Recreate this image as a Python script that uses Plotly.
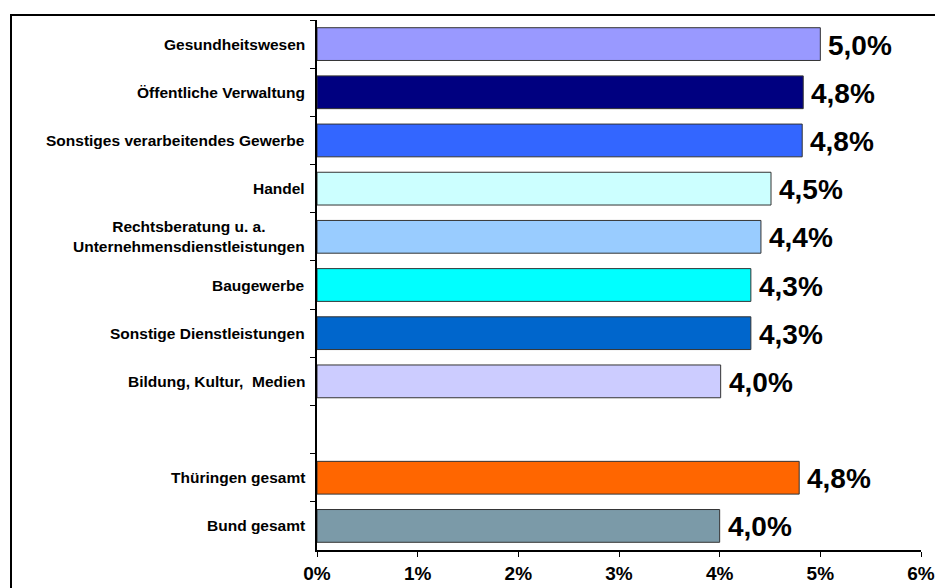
import plotly.graph_objects as go

# Kategorien von oben nach unten (leerer Platz als Trenner)
kategorien = [
    "Gesundheitswesen",
    "Öffentliche Verwaltung",
    "Sonstiges verarbeitendes Gewerbe",
    "Handel",
    "Rechtsberatung u. a.<br>Unternehmensdienstleistungen",
    "Baugewerbe",
    "Sonstige Dienstleistungen",
    "Bildung, Kultur,  Medien",
    " ",
    "Thüringen gesamt",
    "Bund gesamt",
]
werte = [5.0, 4.83, 4.82, 4.51, 4.41, 4.31, 4.31, 4.01, None, 4.79, 4.0]
farben = [
    "#9999FF", "#000080", "#3366FF", "#CCFFFF", "#99CCFF", "#00FFFF",
    "#0066CC", "#CCCCFF", "#FFFFFF", "#FF6600", "#7B9AA8",
]
x_ticks = [0, 1, 2, 3, 4, 5, 6]

# die Seite hat 8px Rand (body margin) -> Ränder entsprechend kleiner
L, T, PW, PH = 309, 12, 604, 535

fig = go.Figure()

fig.add_trace(go.Bar(
    x=werte,
    y=kategorien,
    orientation="h",
    width=0.68,
    marker=dict(color=farben, line=dict(color="#333333", width=1)),
    showlegend=False,
    hoverinfo="skip",
))

# Wertebeschriftung rechts neben den Balken
for k, v in zip(kategorien, werte):
    if v is None:
        continue
    fig.add_annotation(
        x=v, xref="x", y=k, yref="y",
        text=f"{v:.1f}".replace(".", ",") + "%",
        showarrow=False, xanchor="left", xshift=6, yshift=-1,
        font=dict(family="Liberation Sans", size=28, color="black", weight="bold"),
    )

# Kategorienbeschriftung als Annotationen (zentrierte Zeilen)
for k in kategorien:
    fig.add_annotation(
        x=0, xref="paper", y=k, yref="y",
        text=k, showarrow=False,
        xanchor="right", xshift=-10, align="center",
        font=dict(family="Liberation Sans", size=15.5, color="black", weight="bold"),
    )

# Rahmen um das Diagramm
fig.add_shape(
    type="rect", xref="paper", yref="paper",
    x0=(3 - L) / PW, x1=1.2, y0=-0.3, y1=(T + PH - 7) / PH,
    line=dict(color="black", width=2), fillcolor="rgba(0,0,0,0)",
    layer="below",
)

fig.update_layout(
    width=943,
    height=588,
    margin=dict(l=L, r=943 - L - PW, t=T, b=588 - T - PH),
    plot_bgcolor="white",
    paper_bgcolor="white",
)

fig.update_xaxes(
    range=[0, 6],
    tickvals=x_ticks,
    ticktext=[f"{t}%" for t in x_ticks],
    showgrid=False,
    zeroline=False,
    showline=True,
    linecolor="black",
    linewidth=1.5,
    ticks="outside",
    ticklen=5,
    tickcolor="black",
    tickfont=dict(family="Liberation Sans", size=19, color="black", weight="bold"),
)

fig.update_yaxes(
    type="category",
    categoryorder="array",
    categoryarray=kategorien,
    autorange="reversed",
    showticklabels=False,
    showgrid=False,
    showline=True,
    linecolor="black",
    linewidth=1.5,
    ticks="outside",
    tickson="boundaries",
    ticklen=5,
    tickcolor="black",
)

fig.write_html("out.html")
